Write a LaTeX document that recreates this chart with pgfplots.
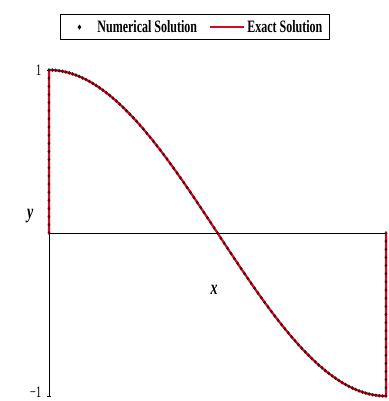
\documentclass[border=0pt]{standalone}
\usepackage{pgfplots}
\usepackage{pgfplotstable}
\pgfplotsset{compat=1.18}
\usepackage{fontspec}
\setmainfont{Liberation Serif}
\definecolor{exactred}{RGB}{210,10,30}
\definecolor{numdark}{RGB}{60,10,15}
\newcommand{\tall}[1]{\scalebox{1}[1.45]{#1}}
\pgfplotstableread{
x y
0 0
0 0.05
0 0.10
0 0.15
0 0.20
0 0.25
0 0.30
0 0.35
0 0.40
0 0.45
0 0.50
0 0.55
0 0.60
0 0.65
0 0.70
0 0.75
0 0.80
0 0.85
0 0.90
0 0.95
0.00 1
0.01 0.99951
0.02 0.99803
0.03 0.99556
0.04 0.99211
0.05 0.98769
0.06 0.98229
0.07 0.97592
0.08 0.96858
0.09 0.96029
0.10 0.95106
0.11 0.94088
0.12 0.92978
0.13 0.91775
0.14 0.90483
0.15 0.89101
0.16 0.87631
0.17 0.86074
0.18 0.84433
0.19 0.82708
0.20 0.80902
0.21 0.79016
0.22 0.77051
0.23 0.75011
0.24 0.72897
0.25 0.70711
0.26 0.68455
0.27 0.66131
0.28 0.63742
0.29 0.61291
0.30 0.58779
0.31 0.56208
0.32 0.53583
0.33 0.50904
0.34 0.48175
0.35 0.45399
0.36 0.42578
0.37 0.39715
0.38 0.36812
0.39 0.33874
0.40 0.30902
0.41 0.27899
0.42 0.24869
0.43 0.21814
0.44 0.18738
0.45 0.15643
0.46 0.12533
0.47 0.09411
0.48 0.06279
0.49 0.03141
0.50 0
0.51 -0.03141
0.52 -0.06279
0.53 -0.09411
0.54 -0.12533
0.55 -0.15643
0.56 -0.18738
0.57 -0.21814
0.58 -0.24869
0.59 -0.27899
0.60 -0.30902
0.61 -0.33874
0.62 -0.36812
0.63 -0.39715
0.64 -0.42578
0.65 -0.45399
0.66 -0.48175
0.67 -0.50904
0.68 -0.53583
0.69 -0.56208
0.70 -0.58779
0.71 -0.61291
0.72 -0.63742
0.73 -0.66131
0.74 -0.68455
0.75 -0.70711
0.76 -0.72897
0.77 -0.75011
0.78 -0.77051
0.79 -0.79016
0.80 -0.80902
0.81 -0.82708
0.82 -0.84433
0.83 -0.86074
0.84 -0.87631
0.85 -0.89101
0.86 -0.90483
0.87 -0.91775
0.88 -0.92978
0.89 -0.94088
0.90 -0.95106
0.91 -0.96029
0.92 -0.96858
0.93 -0.97592
0.94 -0.98229
0.95 -0.98769
0.96 -0.99211
0.97 -0.99556
0.98 -0.99803
0.99 -0.99951
1.00 -1
1 -0.95
1 -0.90
1 -0.85
1 -0.80
1 -0.75
1 -0.70
1 -0.65
1 -0.60
1 -0.55
1 -0.50
1 -0.45
1 -0.40
1 -0.35
1 -0.30
1 -0.25
1 -0.20
1 -0.15
1 -0.10
1 -0.05
1 0
}\soldata
\begin{document}
\begin{tikzpicture}
\begin{axis}[
  scale only axis,
  width=337pt, height=326pt,
  xmin=0, xmax=1, ymin=-1, ymax=1,
  axis lines=middle,
  axis line style={-, black, line width=0.9pt},
  clip=false,
  xtick=\empty,
  ytick={1},
  yticklabels={\tall{1}},
  extra y ticks={-1},
  extra y tick labels={\tall{−1}},
  extra y tick style={yticklabel style={yshift=3.5pt}},
  tick style={black, line width=0.6pt},
  major tick length=4pt,
  y tick label style={font=\fontsize{11}{11}\selectfont, xshift=-2pt},
  xlabel={\tall{\textbf{\textit{x}}}},
  ylabel={\tall{\textbf{\textit{y}}}},
  every axis x label/.style={at={(axis description cs:0.49,0.325)}, anchor=center, font=\fontsize{14}{14}\selectfont},
  every axis y label/.style={at={(axis description cs:-0.056,0.552)}, anchor=center, font=\fontsize{14}{14}\selectfont},
  legend columns=2,
  legend style={at={(axis description cs:0.433,1.172)}, anchor=north,
    draw=black, line width=0.8pt, fill=white,
    font=\bfseries\fontsize{12}{12}\selectfont,
    inner xsep=5pt, inner ysep=4pt,
    /tikz/every even column/.append style={column sep=10pt}},
  legend cell align=left,
]
\addlegendimage{only marks, mark=diamond*, mark size=1.8pt, color=black,
  legend image code/.code={\path[draw=none,fill=none] (0pt,0pt) -- (30pt,0pt); \path[draw=black,fill=black] plot[mark=diamond*, mark size=1.8pt, only marks] coordinates {(14pt,0pt)};}}
\addlegendentry{\tall{Numerical Solution}}
\addplot[color=exactred, line width=2.2pt, line join=round,
  legend image code/.code={\draw[exactred, line width=2.2pt] (0pt,0pt) -- (34pt,0pt);}] table[x=x,y=y]{\soldata};
\addlegendentry{\tall{Exact Solution}}
\addplot[forget plot, only marks, mark=diamond*, mark size=1.6pt, color=numdark, opacity=0.8] table[x=x,y=y]{\soldata};
\end{axis}
\pgfresetboundingbox
\path (-49pt,-5pt) rectangle (339pt,396pt);
\end{tikzpicture}
\end{document}
